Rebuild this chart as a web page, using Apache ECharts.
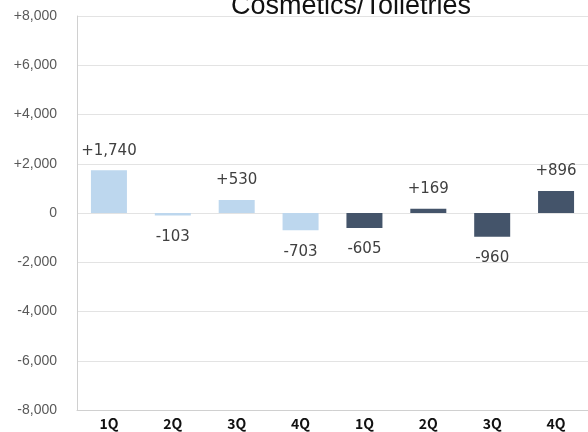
<!DOCTYPE html>
<html><head><meta charset="utf-8">
<script src="https://cdn.jsdelivr.net/npm/echarts@6/dist/echarts.min.js"></script>
<style>html,body{margin:0;padding:0;background:#fff}#c{width:588px;height:432px}</style>
</head><body><div id="c"></div>
<script>
const categories = ['1Q','2Q','3Q','4Q','1Q','2Q','3Q','4Q'];
const prevYear = [1740, -103, 530, -703, null, null, null, null];
const currYear = [null, null, null, null, -605, 169, -960, 896];
const yTicks = { min: -8000, max: 8000, interval: 2000 };

const fmt = v => (v > 0 ? '+' : v < 0 ? '-' : '') + Math.abs(v).toLocaleString('en-US');
const labelFont = { fontFamily: 'DejaVu Sans', fontSize: 15, color: '#404040' };
function items(arr) {
  return arr.map(v => v === null ? '-' : {
    value: v,
    label: { show: true, position: v >= 0 ? 'top' : 'bottom', distance: v >= 0 ? 12 : 14, formatter: fmt(v), ...labelFont }
  });
}
const chart = echarts.init(document.getElementById('c'));
chart.setOption({
  animation: false,
  title: { text: 'Cosmetics/Toiletries', left: 346, textAlign: 'center', top: -12,
    textStyle: { fontFamily: 'Liberation Sans', fontSize: 27, fontWeight: 'normal', color: '#111' } },
  grid: { left: 77, top: 16, width: 523, bottom: 22, containLabel: false },
  xAxis: { type: 'category', data: categories,
    axisLine: { onZero: false, lineStyle: { color: '#d0d0d0' } }, axisTick: { show: false },
    axisLabel: { margin: 7, fontFamily: 'Noto Sans CJK JP', fontSize: 14, fontWeight: 'bold', color: '#111' } },
  yAxis: { type: 'value', min: yTicks.min, max: yTicks.max, interval: yTicks.interval,
    axisLine: { show: true, lineStyle: { color: '#d0d0d0' } },
    splitLine: { lineStyle: { color: '#e3e3e3' } },
    axisLabel: { margin: 20, fontFamily: 'Liberation Sans', fontSize: 14, color: '#595959', formatter: fmt } },
  series: [
    { type: 'bar', stack: 's', barWidth: 36, data: items(prevYear), itemStyle: { color: '#BDD7EE' } },
    { type: 'bar', stack: 's', barWidth: 36, data: items(currYear), itemStyle: { color: '#44546A' } }
  ]
});
</script></body></html>
